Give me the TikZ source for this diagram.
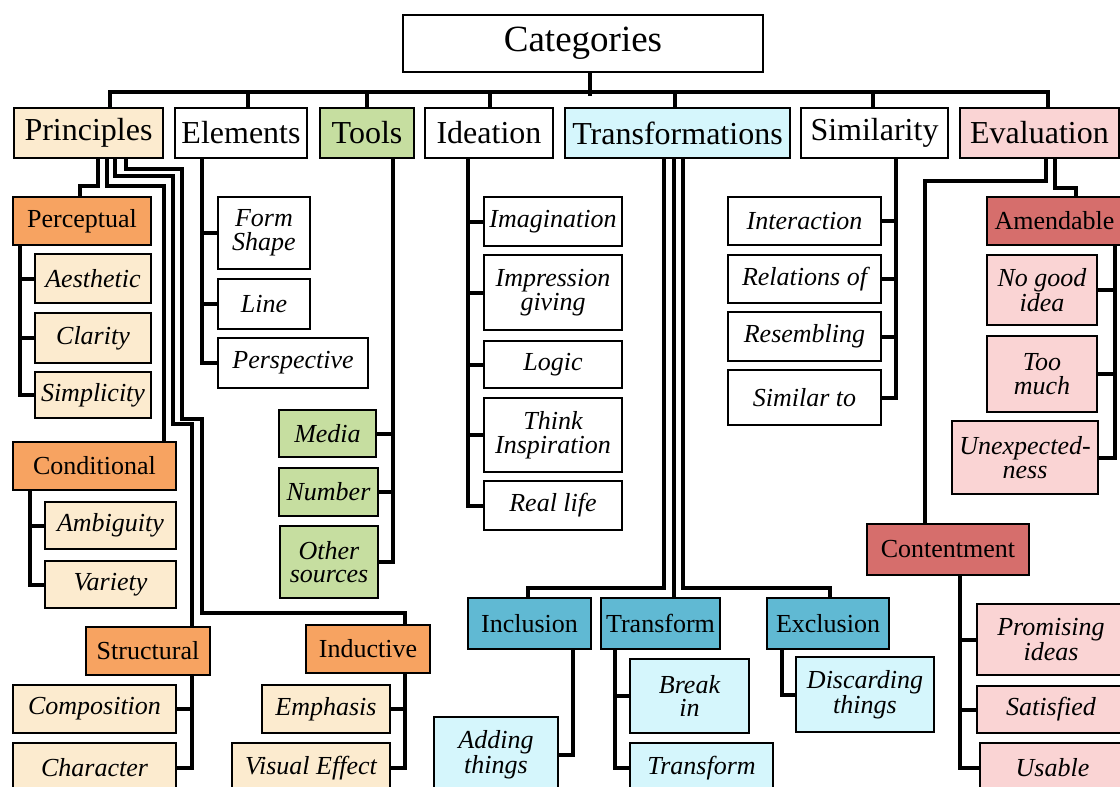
\documentclass[tikz,border=0pt]{standalone}
\usepackage{fontspec}
\setmainfont{Liberation Serif}
\pgfdeclarelayer{bg}
\pgfsetlayers{bg,main}
\definecolor{cream}{RGB}{252,235,207}
\definecolor{orangec}{RGB}{247,163,97}
\definecolor{greenc}{RGB}{198,222,160}
\definecolor{lcyan}{RGB}{213,246,252}
\definecolor{bluec}{RGB}{96,185,211}
\definecolor{pinkc}{RGB}{250,212,212}
\definecolor{redc}{RGB}{214,110,108}
\newcommand\mybox[7]{\node[#1, minimum width={(#5)-(#3)}, minimum height={(#6)-(#4)}] (#2) at ({((#3)+(#5))/2},{((#4)+(#6))/2}) {#7};}
\begin{document}
\begin{tikzpicture}[x=1pt,y=-1pt,
  box/.style={draw, line width=2.2pt, inner sep=0pt, align=center},
  catbox/.style={box, fill=white, font=\fontsize{37}{40}\selectfont},
  topbox/.style={box, font=\fontsize{32}{34}\selectfont},
  subbox/.style={box, font=\fontsize{26}{24}\selectfont},
  leafbox/.style={box, font=\fontsize{26}{23.5}\selectfont\itshape},
  conn/.style={line width=4pt, line join=miter, line cap=rect}]
\path[use as bounding box] (0,0) rectangle (1120,787);
\clip (0,0) rectangle (1120,787);
% root and categories
\mybox{catbox}{cat}{403}{15}{763}{72}{Categories}
\mybox{topbox,fill=cream}{prin}{14}{108}{163}{158}{Principles}
\mybox{topbox,fill=white}{elem}{175}{108}{307}{158}{Elements}
\mybox{topbox,fill=greenc}{tools}{320}{108}{414}{158}{Tools}
\mybox{topbox,fill=white}{idea}{425}{108}{553}{158}{Ideation}
\mybox{topbox,fill=lcyan}{trans}{565}{108}{790}{158}{Transformations}
\mybox{topbox,fill=white}{sim}{801}{108}{948}{158}{Similarity}
\mybox{topbox,fill=pinkc}{eval}{960}{108}{1119}{158}{Evaluation}
% Principles
\mybox{subbox,fill=orangec}{perc}{13}{197}{151}{245}{Perceptual}
\mybox{leafbox,fill=cream}{aes}{35}{254}{151}{303}{Aesthetic}
\mybox{leafbox,fill=cream}{clar}{35}{313}{151}{363}{Clarity}
\mybox{leafbox,fill=cream}{simp}{35}{372}{151}{418}{Simplicity}
\mybox{subbox,fill=orangec}{cond}{13}{442}{176}{490}{Conditional}
\mybox{leafbox,fill=cream}{amb}{45}{502}{176}{549}{Ambiguity}
\mybox{leafbox,fill=cream}{var}{45}{561}{176}{608}{Variety}
\mybox{subbox,fill=orangec}{struct}{86}{627}{210}{675}{Structural}
\mybox{leafbox,fill=cream}{comp}{13}{685}{176}{733}{Composition}
\mybox{leafbox,fill=cream}{char}{13}{743}{176}{793}{Character}
\mybox{subbox,fill=orangec}{induct}{306}{625}{430}{673}{Inductive}
\mybox{leafbox,fill=cream}{emph}{262}{685}{390}{733}{Emphasis}
\mybox{leafbox,fill=cream}{vis}{232}{743}{390}{793}{Visual Effect}
% Elements
\mybox{leafbox,fill=white}{form}{218}{197}{310}{269}{Form\\Shape}
\mybox{leafbox,fill=white}{line}{218}{279}{310}{329}{Line}
\mybox{leafbox,fill=white}{persp}{218}{338}{368}{388}{Perspective}
% Tools
\mybox{leafbox,fill=greenc}{media}{279}{410}{376}{457}{Media}
\mybox{leafbox,fill=greenc}{numb}{279}{468}{378}{516}{Number}
\mybox{leafbox,fill=greenc}{other}{280}{526}{378}{598}{Other\\sources}
% Ideation
\mybox{leafbox,fill=white}{imag}{484}{197}{622}{246}{Imagination}
\mybox{leafbox,fill=white}{impr}{484}{255}{622}{330}{Impression\\giving}
\mybox{leafbox,fill=white}{logic}{484}{341}{622}{388}{Logic}
\mybox{leafbox,fill=white}{think}{484}{398}{622}{472}{Think\\Inspiration}
\mybox{leafbox,fill=white}{real}{484}{481}{622}{530}{Real life}
% Transformations
\mybox{subbox,fill=bluec}{incl}{468}{598}{591}{649}{Inclusion}
\mybox{subbox,fill=bluec}{tranf}{601}{598}{720}{649}{Transform}
\mybox{subbox,fill=bluec}{excl}{767}{598}{889}{649}{Exclusion}
\mybox{leafbox,fill=lcyan}{add}{434}{717}{558}{793}{Adding\\things}
\mybox{leafbox,fill=lcyan}{brk}{630}{659}{749}{733}{Break\\in}
\mybox{leafbox,fill=lcyan}{tfl}{630}{743}{773}{793}{Transform}
\mybox{leafbox,fill=lcyan}{disc}{796}{657}{934}{732}{Discarding\\things}
% Similarity
\mybox{leafbox,fill=white}{inter}{728}{197}{881}{245}{Interaction}
\mybox{leafbox,fill=white}{rel}{728}{255}{881}{303}{Relations of}
\mybox{leafbox,fill=white}{res}{728}{312}{881}{361}{Resembling}
\mybox{leafbox,fill=white}{simto}{728}{370}{881}{425}{Similar to}
% Evaluation
\mybox{subbox,fill=redc}{amend}{987}{197}{1122}{245}{Amendable}
\mybox{leafbox,fill=pinkc}{nogood}{987}{255}{1097}{325}{No good\\idea}
\mybox{leafbox,fill=pinkc}{toomuch}{987}{336}{1097}{412}{Too\\much}
\mybox{leafbox,fill=pinkc}{unexp}{952}{421}{1098}{494}{Unexpected-\\ness}
\mybox{subbox,fill=redc}{cont}{867}{524}{1029}{575}{Contentment}
\mybox{leafbox,fill=pinkc}{prom}{977}{604}{1125}{675}{Promising\\ideas}
\mybox{leafbox,fill=pinkc}{sat}{977}{686}{1125}{733}{Satisfied}
\mybox{leafbox,fill=pinkc}{usable}{980}{743}{1125}{793}{Usable}
\begin{pgfonlayer}{bg}
\fill[white] (0,0) rectangle (1120,787);
% bus
\draw[conn] ([xshift=21.5pt]prin.north) -- ++(0,-15) -| ([xshift=8.5pt]eval.north);
\draw[conn] ([xshift=7pt]cat.south) -- ++(0,21);
\draw[conn] ([xshift=7pt]elem.north) -- ++(0,-15);
\draw[conn] (tools.north) -- ++(0,-15);
\draw[conn] ([xshift=1pt]idea.north) -- ++(0,-15);
\draw[conn] ([xshift=-2.5pt]trans.north) -- ++(0,-15);
\draw[conn] ([xshift=-1.5pt]sim.north) -- ++(0,-15);
% Principles branches
\draw[conn] ([xshift=9.5pt]prin.south) -- ++(0,27) -| ([xshift=-2pt]perc.north);
\draw[conn] ([xshift=18.5pt]prin.south) -- ++(0,27) -| ([xshift=69.5pt]cond.north);
\draw[conn] ([xshift=26.5pt]prin.south) -- ++(0,17) -- ++(58,0) -- ++(0,248) -| ([xshift=44pt]struct.north);
\draw[conn] ([xshift=37.5pt]prin.south) -- ++(0,10) -- ++(56,0) -- ++(0,250) -- ++(20,0) -- ++(0,194) -| ([xshift=37pt]induct.north);
\foreach \c in {aes,clar,simp} \draw[conn] ([xshift=-62pt]perc.south) |- (\c.west);
\foreach \c in {amb,var} \draw[conn] ([xshift=-64.5pt]cond.south) |- (\c.west);
\foreach \c in {comp,char} \draw[conn] ([xshift=44pt]struct.south) |- (\c.east);
\foreach \c in {emph,vis} \draw[conn] ([xshift=37pt]induct.south) |- (\c.east);
% Elements, Tools, Ideation
\foreach \c in {form,line,persp} \draw[conn] ([xshift=-39pt]elem.south) |- (\c.west);
\foreach \c in {media,numb,other} \draw[conn] ([xshift=26pt]tools.south) |- (\c.east);
\foreach \c in {imag,impr,logic,think,real} \draw[conn] ([xshift=-21pt]idea.south) |- (\c.west);
% Transformations
\draw[conn] ([xshift=-13.5pt]trans.south) -- ++(0,429) -| ([xshift=-1.5pt]incl.north);
\draw[conn] ([xshift=-4pt]trans.south) -- ([xshift=13pt]tranf.north);
\draw[conn] ([xshift=5.5pt]trans.south) -- ++(0,429) -| ([xshift=2pt]excl.north);
\draw[conn] ([xshift=43.5pt]incl.south) |- (add.east);
\foreach \c in {brk,tfl} \draw[conn] ([xshift=-45.5pt]tranf.south) |- (\c.west);
\draw[conn] ([xshift=-46pt]excl.south) |- (disc.west);
% Similarity
\foreach \c in {inter,rel,res,simto} \draw[conn] ([xshift=21.5pt]sim.south) |- (\c.east);
% Evaluation
\draw[conn] ([xshift=6.5pt]eval.south) -- ++(0,22) -| ([xshift=-23pt]cont.north);
\draw[conn] ([xshift=15.5pt]eval.south) -- ++(0,29) -| ([xshift=21.5pt]amend.north);
\foreach \c in {nogood,toomuch,unexp} \draw[conn] ([xshift=60.5pt]amend.south) |- (\c.east);
\foreach \c in {prom,sat,usable} \draw[conn] ([xshift=12pt]cont.south) |- (\c.west);
\end{pgfonlayer}
\end{tikzpicture}
\end{document}
